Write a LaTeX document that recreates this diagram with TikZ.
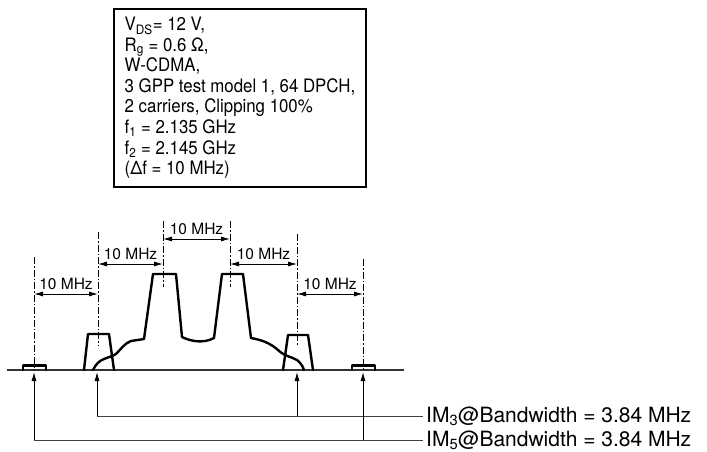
\documentclass[tikz,border=0pt]{standalone}
\usepackage{fontspec}
\setmainfont{TeX Gyre Heros}
\newfontfamily\boxfont[FakeStretch=0.91]{TeX Gyre Heros}
\usetikzlibrary{arrows.meta}
\tikzset{
  spec/.style={line width=2.4pt, line join=round, line cap=round},
  dashdot/.style={line width=0.9pt, dash pattern=on 7pt off 2pt on 1.5pt off 2pt},
  dimarrow/.style={line width=0.9pt, {Latex[length=9pt,width=5pt]}-{Latex[length=9pt,width=5pt]}},
  uparrow/.style={line width=0.9pt, -{Latex[length=9pt,width=5pt]}},
  leg/.style={line width=0.9pt, draw=black!75},
  mhz/.style={font=\fontsize{15.5}{18}\selectfont, inner sep=1pt},
  imlabel/.style={font=\fontsize{21}{23}\selectfont, anchor=west, inner sep=3pt},
  infobox/.style={draw, line width=2pt, anchor=north west, align=left, inner xsep=6pt, inner ysep=8pt,
     minimum width=252pt, font=\boxfont\fontsize{18.5}{20.6}\selectfont}
}
\begin{document}
\begin{tikzpicture}[x=1pt,y=-1pt]
\useasboundingbox (0,0) rectangle (707,452);
% info box
\node[infobox] (info) at (113,8) {V\textsubscript{DS}= 12 V,\\R\textsubscript{g} = 0.6 Ω,\\W-CDMA,\\3 GPP test model 1, 64 DPCH,\\2 carriers, Clipping 100\%\\f\textsubscript{1} = 2.135 GHz\\f\textsubscript{2} = 2.145 GHz\\(Δf = 10 MHz)};
% baseline
\coordinate (bl) at (7,370);
\coordinate (br) at (404,370);
\draw[line width=1.3pt, draw=black!80] (bl) -- (br);
% dash-dot reference lines
\coordinate (a1) at (34,257);  \coordinate (b1) at (34,370);
\coordinate (a2) at (98,232);  \coordinate (b2) at (98,346);
\coordinate (a3) at (163,221); \coordinate (b3) at (163,287);
\coordinate (a4) at (230,221); \coordinate (b4) at (230,287);
\coordinate (a5) at (297,234); \coordinate (b5) at (297,345);
\coordinate (a6) at (363,259); \coordinate (b6) at (363,370);
\foreach \i in {1,...,6} \draw[dashdot] (a\i) -- (b\i);
% dimension arrows
\coordinate (m1l) at (34,294);  \coordinate (m1r) at (98,294);
\coordinate (m2l) at (98,264);  \coordinate (m2r) at (163,264);
\coordinate (m3l) at (163,239); \coordinate (m3r) at (230,239);
\coordinate (m4l) at (230,264); \coordinate (m4r) at (297,264);
\coordinate (m5l) at (297,294); \coordinate (m5r) at (363,294);
\foreach \i in {1,...,5} {
  \draw[dimarrow] (m\i l) -- (m\i r);
  \path (m\i l) -- (m\i r) node[midway, above=3pt, mhz] (lab\i) {10 MHz};
}
% spectrum: carriers
\draw[spec] (93,370) .. controls (96,364) and (99,361) .. (104,359)
  .. controls (109,357) and (113,356) .. (116,354)
  .. controls (121,349) and (125,343) .. (131,341)
  -- (144,339) -- (153,274) -- (176,274) -- (182,337)
  .. controls (190,341) and (203,344) .. (214,338)
  -- (222,274) -- (243,274) -- (251,338)
  .. controls (262,340) and (270,343) .. (278,350)
  .. controls (284,356) and (292,357) .. (297,360)
  .. controls (301,363) and (303,367) .. (304,370);
% IM3 products
\draw[spec] (84,370) -- (88,334) -- (109,334) -- (114,370);
\draw[spec] (283,370) -- (288,335) -- (308,335) -- (313,370);
% IM5 products
\draw[spec] (23,370) -- (23,365.5) -- (46,365.5) -- (46,370);
\draw[spec] (352,370) -- (352,365.5) -- (375,365.5) -- (375,370);
% legends
\node[imlabel] (im3) at (423,416) {IM\textsubscript{3}@Bandwidth = 3.84 MHz};
\node[imlabel] (im5) at (423,440) {IM\textsubscript{5}@Bandwidth = 3.84 MHz};
\coordinate (t3l) at (97,372);  \coordinate (c3l) at (97,416);
\coordinate (t3r) at (297,372); \coordinate (c3r) at (297,416);
\coordinate (t5l) at (34,372);  \coordinate (c5l) at (34,440);
\coordinate (t5r) at (363,372); \coordinate (c5r) at (363,440);
\draw[leg] (c3l) -- (im3.west);
\draw[leg] (c5l) -- (im5.west);
\draw[uparrow] (c3l) -- (t3l);
\draw[uparrow] (c3r) -- (t3r);
\draw[uparrow] (c5l) -- (t5l);
\draw[uparrow] (c5r) -- (t5r);
\end{tikzpicture}
\end{document}
